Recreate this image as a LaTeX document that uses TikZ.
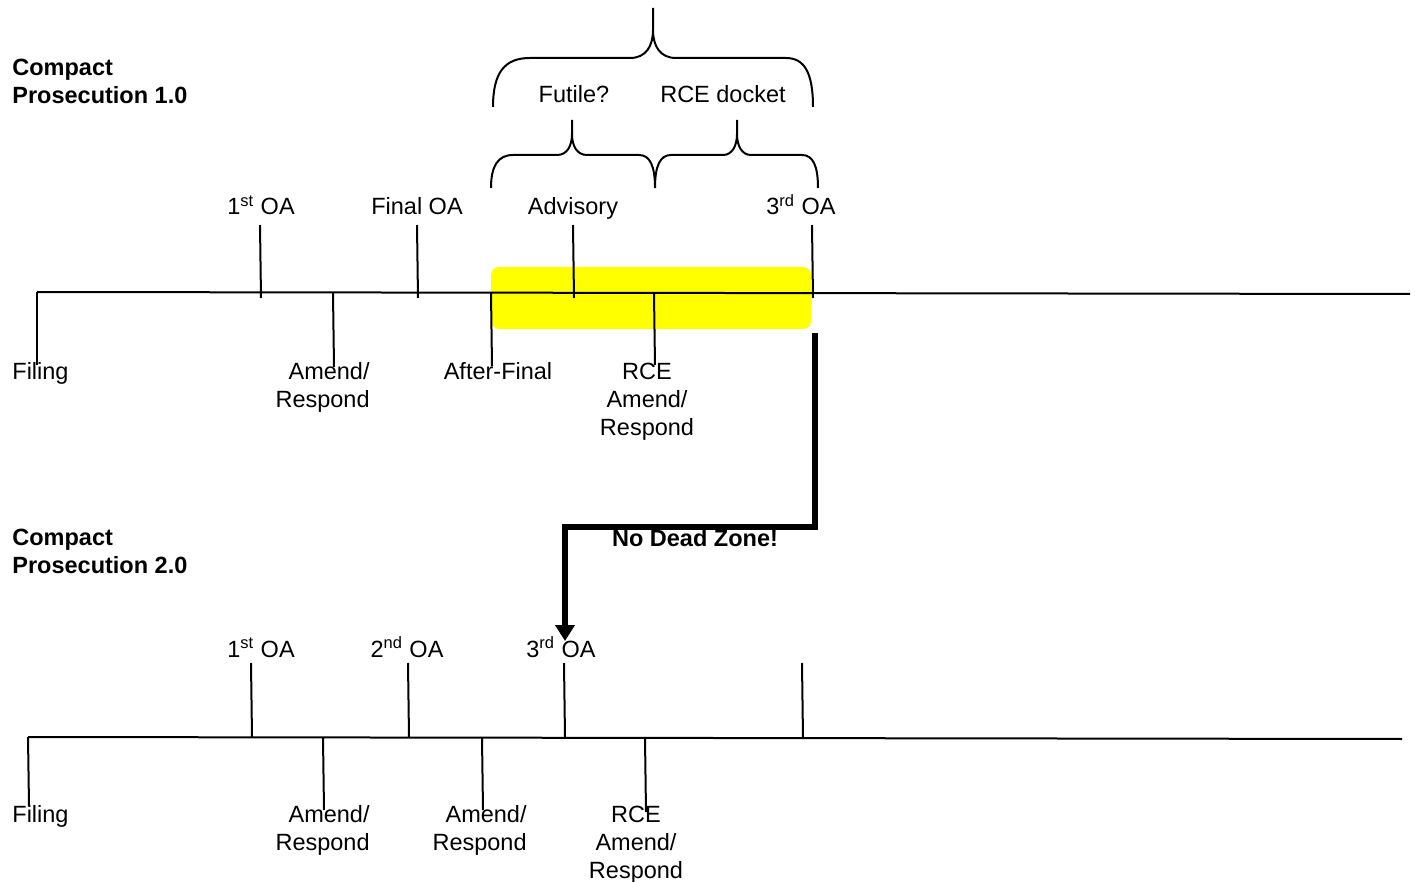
\documentclass[tikz,border=0pt]{standalone}
\usepackage{fontspec}
\setmainfont{Liberation Sans}
\usetikzlibrary{arrows.meta}
\newcommand\labfont{\fontsize{11.75pt}{14pt}\selectfont}
\definecolor{hiyellow}{RGB}{255,255,0}
\tikzset{
  lab/.style={font=\labfont, inner sep=0pt, anchor=base},
  labr/.style={lab, anchor=base east, align=right},
  labl/.style={lab, anchor=base west, align=left},
  labc/.style={lab, align=center},
  title/.style={labl, font=\labfont\bfseries},
  tick/.style={line width=1pt},
  axis/.style={line width=1pt},
  bracepath/.style={line width=1pt},
  deadzone/.style={fill=hiyellow, rounded corners=4pt, draw=none},
  bigarrow/.style={line width=2.6pt, -{Triangle[width=9.5pt,length=8pt]}}
}
\begin{document}
\begin{tikzpicture}[x=0.5pt,y=-0.5pt]
\useasboundingbox (0,0) rectangle (1415,882);

% ---------- Compact Prosecution 1.0 ----------
% (multi-line nodes: base = baseline of the last line)
\node[title] (title1) at (12,104) {Compact\\Prosecution 1.0};
\fill[deadzone] (491,267) rectangle (811,329);
\coordinate (ax1s) at (37,292);
\coordinate (ax1e) at (1410,294);
\draw[axis] (ax1s) -- (ax1e);

% ticks
\draw[tick] (37,292) -- (37,365);
\draw[tick] (260,225) -- (261,298);
\draw[tick] (333,293) -- (334,367);
\draw[tick] (417,225) -- (418,298);
\draw[tick] (491,293) -- (492,366);
\draw[tick] (573,225) -- (574,298);
\draw[tick] (654,294) -- (655,365);
\draw[tick] (812,225) -- (813,298);

% labels
\node[lab] (oa1a) at (261,215) {1\textsuperscript{st} OA};
\node[lab] (finaloa) at (417,215) {Final OA};
\node[lab] (advisory) at (573,215) {Advisory};
\node[lab] (oa3a) at (801,215) {3\textsuperscript{rd} OA};
\node[lab] (futile) at (574,103) {Futile?};
\node[lab] (rcedocket) at (723,103) {RCE docket};
\node[labl] (filing1) at (12,380) {Filing};
\node[labr] (amend1) at (370,408) {Amend/\\Respond};
\node[lab] (afterfinal) at (498,380) {After-Final};
\node[labc] (rce1) at (647,436) {RCE\\Amend/\\Respond};

% braces
\draw[bracepath] (493,107) .. controls (493,72) and (505,58) .. (530,58) -- (630,58)
   .. controls (646,58) and (653,46) .. (653,30) -- (653,8);
\draw[bracepath] (653,30) .. controls (653,46) and (660,58) .. (676,58) -- (786,58)
   .. controls (804,58) and (813,72) .. (813,107);
\draw[bracepath] (491,188) .. controls (491,166) and (498,155) .. (513,155) -- (557,155)
   .. controls (567,155) and (572,146) .. (572,134) -- (572,120);
\draw[bracepath] (572,134) .. controls (572,146) and (577,155) .. (587,155) -- (639,155)
   .. controls (650,155) and (655,166) .. (655,188);
\draw[bracepath] (655,188) .. controls (655,166) and (660,155) .. (671,155) -- (723,155)
   .. controls (732,155) and (737,146) .. (737,134) -- (737,120);
\draw[bracepath] (737,134) .. controls (737,146) and (742,155) .. (751,155) -- (802,155)
   .. controls (813,155) and (818,166) .. (818,188);

% ---------- Compact Prosecution 2.0 ----------
\node[title] (title2) at (12,574) {Compact\\Prosecution 2.0};
\coordinate (ax2s) at (28,737);
\coordinate (ax2e) at (1402,739);
\draw[axis] (ax2s) -- (ax2e);

\draw[tick] (28,737) -- (29,806);
\draw[tick] (251,663) -- (252,737);
\draw[tick] (323,738) -- (324,810);
\draw[tick] (408,663) -- (409,737);
\draw[tick] (482,738) -- (483,810);
\draw[tick] (564,663) -- (565,737);
\draw[tick] (645,738) -- (646,812);
\draw[tick] (802,663) -- (803,738);

\node[lab] (oa1b) at (261,657) {1\textsuperscript{st} OA};
\node[lab] (oa2b) at (407,657) {2\textsuperscript{nd} OA};
\node[lab] (oa3b) at (561,657) {3\textsuperscript{rd} OA};
\node[labl] (filing2) at (12,822) {Filing};
\node[labr] (amend2a) at (370,850) {Amend/\\Respond};
\node[labr] (amend2b) at (527,850) {Amend/\\Respond};
\node[labc] (rce2) at (636,878) {RCE\\Amend/\\Respond};

% ---------- No Dead Zone arrow ----------
\node[lab, font=\labfont\bfseries] (nodead) at (695,546) {No Dead Zone!};
\coordinate (arrstart) at (815,333);
\coordinate (arrend) at (565,641);
\draw[bigarrow] (arrstart) |- (565,527) -- (arrend);
\end{tikzpicture}
\end{document}
